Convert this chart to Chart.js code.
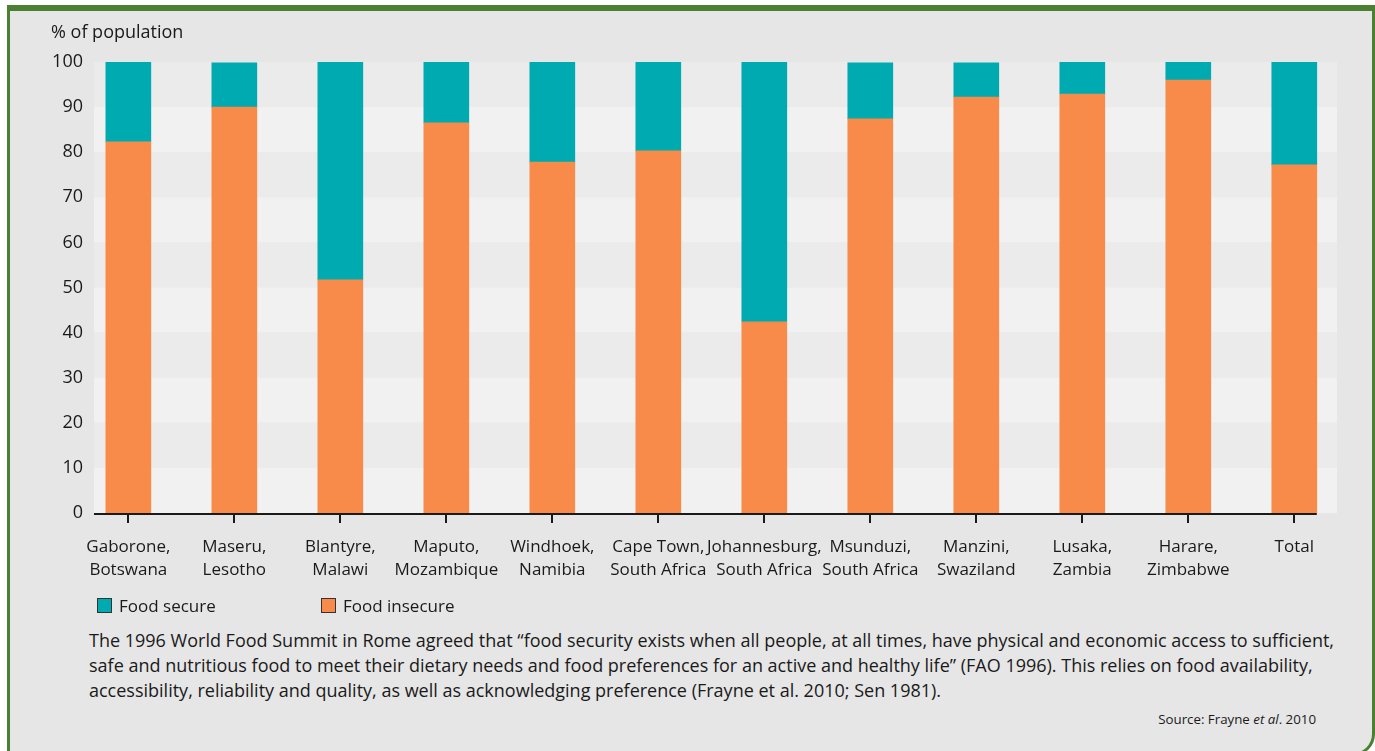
<!DOCTYPE html>
<html>
<head>
<meta charset="utf-8">
<script src="https://cdn.jsdelivr.net/npm/chart.js@4"></script>
<style>
    body { margin: 0; background: #fff; font-family: 'Open Sans', sans-serif; color: #1a1a1a; }
    .frame {
        position: absolute; left: 7px; top: 5px; width: 1362px; height: 742px;
        border-top: 6px solid #4b7f32; border-left: 3px solid #4b7f32; border-right: 3px solid #4b7f32;
        border-bottom: 3px solid #4b7f32; border-bottom-right-radius: 22px; background: #e6e6e6;
    }
    #chart { position: absolute; left: 0; top: 0; }
    .ytitle { position: absolute; left: 51px; top: 19px; font-size: 18px; }
    .legend { position: absolute; top: 594px; font-size: 17px; display: flex; align-items: center; }
    .legend span.box { display: inline-block; width: 15px; height: 15px; border: 1px solid #333; margin-right: 7px; box-sizing: border-box; }
    .note { position: absolute; left: 89px; top: 628px; font-size: 18px; line-height: 25px; white-space: nowrap; }
    .source { position: absolute; right: 59px; top: 710px; font-size: 13.3px; }
</style>
</head>
<body>
<div class="frame"></div>
<canvas id="chart" width="1375" height="600"></canvas>
<div class="ytitle">% of population</div>
<div id="legend"></div>
<div class="note">The 1996 World Food Summit in Rome agreed that “food security exists when all people, at all times, have physical and economic access to sufficient,<br>safe and nutritious food to meet their dietary needs and food preferences for an active and healthy life” (FAO 1996). This relies on food availability,<br>accessibility, reliability and quality, as well as acknowledging preference (Frayne et al. 2010; Sen 1981).</div>
<div class="source">Source: Frayne <i>et al</i>. 2010</div>
<script>
// city labels (two lines each)
const cities = [
    ['Gaborone,', 'Botswana'], ['Maseru,', 'Lesotho'], ['Blantyre,', 'Malawi'], ['Maputo,', 'Mozambique'],
    ['Windhoek,', 'Namibia'], ['Cape Town,', 'South Africa'], ['Johannesburg,', 'South Africa'],
    ['Msunduzi,', 'South Africa'], ['Manzini,', 'Swaziland'], ['Lusaka,', 'Zambia'], ['Harare,', 'Zimbabwe'], 'Total'
];
const foodInsecure = [82.3, 90, 51.7, 86.5, 77.8, 80.3, 42.4, 87.4, 92.2, 92.9, 96, 77.2];
const foodSecure = [17.7, 9.8, 48.3, 13.5, 22.2, 19.7, 57.6, 12.4, 7.6, 7.1, 4, 22.8];
const yTicks = [0, 10, 20, 30, 40, 50, 60, 70, 80, 90, 100];

const TEAL = '#00aab1';
const ORANGE = '#f88b4a';
const FONT = "'Open Sans', sans-serif";
const BAR_W = 45;

// alternating plot bands + base line
const bandsPlugin = {
    id: 'bands',
    beforeDatasetsDraw(chart) {
        const { ctx, chartArea, scales } = chart;
        ctx.save();
        for (let i = 0; i < yTicks.length - 1; i++) {
            const top = scales.y.getPixelForValue(yTicks[yTicks.length - 1 - i]);
            const bot = scales.y.getPixelForValue(yTicks[yTicks.length - 2 - i]);
            ctx.fillStyle = i % 2 === 0 ? '#ebebeb' : '#f1f1f1';
            ctx.fillRect(chartArea.left, top, chartArea.width, bot - top);
        }
        ctx.restore();
    },
    afterDatasetsDraw(chart) {
        const { ctx, chartArea, scales } = chart;
        const y0 = scales.y.getPixelForValue(0);
        const xEnd = scales.x.getPixelForValue(cities.length - 1) + BAR_W / 2;
        ctx.save();
        ctx.strokeStyle = '#1a1a1a';
        ctx.lineWidth = 2;
        ctx.beginPath();
        ctx.moveTo(chartArea.left, y0 + 1);
        ctx.lineTo(xEnd, y0 + 1);
        ctx.stroke();
        ctx.restore();
    }
};

const toPoints = arr => arr.map((v, i) => ({ x: i, y: v }));

const chart = new Chart(document.getElementById('chart'), {
    type: 'bar',
    data: {
        datasets: [
            { label: 'Food insecure', data: toPoints(foodInsecure), backgroundColor: ORANGE, barThickness: BAR_W },
            { label: 'Food secure', data: toPoints(foodSecure), backgroundColor: TEAL, barThickness: BAR_W }
        ]
    },
    options: {
        responsive: false,
        animation: false,
        layout: { padding: { left: 0, right: 38, top: 62, bottom: 0 } },
        plugins: { legend: { display: false }, tooltip: { enabled: false } },
        scales: {
            x: {
                type: 'linear',
                stacked: true,
                offset: false,
                min: -0.324, max: 11.403,
                grid: { offset: false, drawOnChartArea: false, tickLength: 10, color: '#1a1a1a', lineWidth: 2 },
                border: { display: false },
                ticks: {
                    color: '#1a1a1a', font: { family: FONT, size: 17, lineHeight: 1.35 },
                    padding: 13, maxRotation: 0, autoSkip: false,
                    callback: v => cities[v]
                },
                // one tick per city
                afterBuildTicks(scale) { scale.ticks = cities.map((c, i) => ({ value: i })); },
                afterFit(scale) { scale.height = 87; }
            },
            y: {
                stacked: true,
                min: 0, max: 100,
                grid: { display: false, drawTicks: false },
                border: { display: false },
                ticks: { stepSize: 10, color: '#1a1a1a', font: { family: FONT, size: 18 }, padding: 11 },
                afterFit(scale) { scale.width = 94; }
            }
        }
    },
    plugins: [bandsPlugin]
});

// html legend from datasets
const legend = document.getElementById('legend');
const legendX = [97, 321];
[1, 0].forEach((di, i) => {
    const ds = chart.data.datasets[di];
    const item = document.createElement('div');
    item.className = 'legend';
    item.style.left = legendX[i] + 'px';
    item.innerHTML = `<span class="box" style="background:${ds.backgroundColor}"></span>${ds.label}`;
    legend.appendChild(item);
});
</script>
</body>
</html>
